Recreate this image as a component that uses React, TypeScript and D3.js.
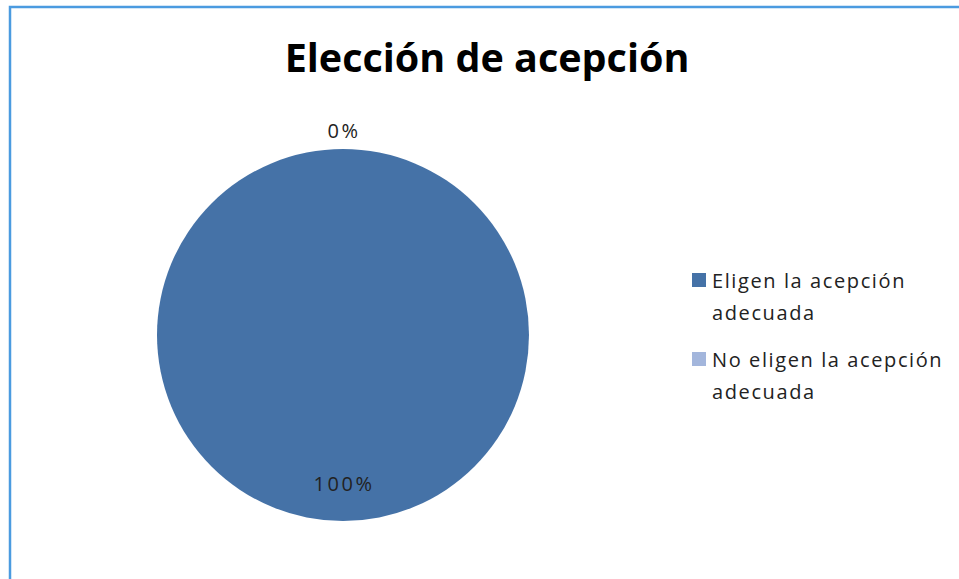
import * as d3 from "d3";

const categories = ["Eligen la acepción adecuada", "No eligen la acepción adecuada"];
const legendLines = [["Eligen la acepción", "adecuada"], ["No eligen la acepción", "adecuada"]];
const values = [100, 0];
const labels = ["100%", "0%"];
const colors = ["#4572a7", "#a3b6dc"];

const width = 959;
const height = 579;

export default function App() {
	const cx = 343, cy = 335, r = 186;
	const pie = d3.pie<number>().sort(null).value((d) => d);
	const arcs = pie(values);
	const arc = d3.arc<d3.PieArcDatum<number>>().innerRadius(0).outerRadius(r);
	const inLabel = d3.arc<d3.PieArcDatum<number>>().innerRadius(r * 0.8).outerRadius(r * 0.8);
	const outLabel = d3.arc<d3.PieArcDatum<number>>().innerRadius(r + 18).outerRadius(r + 18);

	return (
		<svg width={width} height={height} style={{ position: "absolute", left: 0, top: 0, background: "#fff" }}>
			<path d={`M10,${height} V7 H${width}`} fill="none" stroke="#4b9be0" strokeWidth="2.5" />
			<text x={487} y={72} textAnchor="middle" fontFamily="Open Sans" fontWeight="bold" fontSize="39.5" fill="#000">
				Elección de acepción
			</text>
			<g transform={`translate(${cx},${cy})`}>
				{arcs.map((a, i) => <path key={categories[i]} d={arc(a) || ""} fill={colors[i]} />)}
				{arcs.map((a, i) => {
					const [lx, ly] = a.value > 0 ? inLabel.centroid(a) : outLabel.centroid(a);
					return (
						<text key={labels[i]} x={lx + 1} y={ly} dy="0.35em" textAnchor="middle"
							fontFamily="Open Sans" fontSize="20" letterSpacing="2.5" fill="#222">{labels[i]}</text>
					);
				})}
			</g>
			<g fontFamily="Open Sans" fontSize="20" letterSpacing="1.6" fill="#222">
				{legendLines.map((lines, i) => (
					<g key={categories[i]} transform={`translate(692,${273 + i * 79})`}>
						<rect width="14" height="14" fill={colors[i]} />
						{lines.map((t, j) => <text key={j} x={20} y={15 + j * 32}>{t}</text>)}
					</g>
				))}
			</g>
		</svg>
	);
}
